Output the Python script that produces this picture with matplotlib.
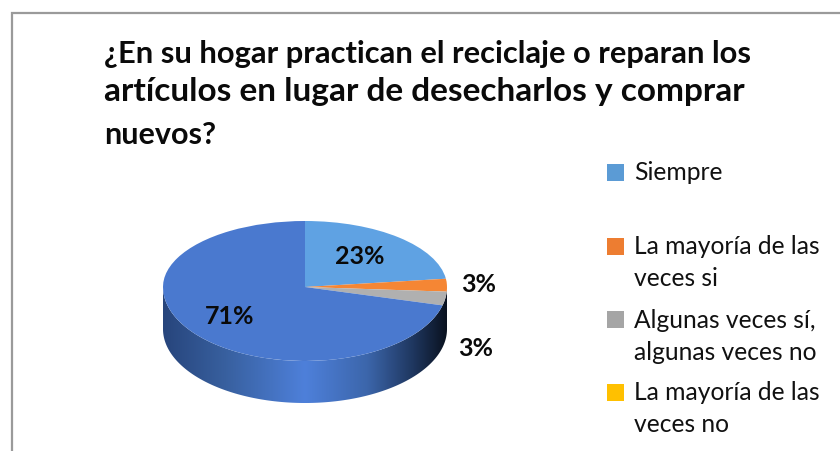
import numpy as np
import matplotlib
matplotlib.use("Agg")
import matplotlib.pyplot as plt
from matplotlib.patches import Rectangle, PathPatch
from matplotlib.path import Path
from matplotlib.colors import LinearSegmentedColormap

categories = ["Siempre", "La mayoría de las\nveces si", "Algunas veces sí,\nalgunas veces no",
              "La mayoría de las\nveces no", "Nunca"]
values = [23, 3, 3, 0, 71]
labels = ["23%", "3%", "3%", "", "71%"]
colors = ["#5fa2e3", "#f58634", "#b0b0b0", "#ffc000", "#4a79cf"]
legend_colors = ["#5b9bd5", "#ed7d31", "#a5a5a5", "#ffc000"]
title_lines = ["¿En su hogar practican el reciclaje o reparan los",
               "artículos en lugar de desecharlos y comprar",
               "nuevos?"]

W, H = 840, 451
FONT = "Lato"
fig = plt.figure(figsize=(W / 100, H / 100), dpi=100, facecolor="white")
bg = fig.add_axes([0, 0, 1, 1])
bg.set_xlim(0, W); bg.set_ylim(H, 0); bg.axis("off")

# frame (top and left only reach the picture)
bg.plot([11.5, 11.5, W], [H, 13, 13], color="#9a9a9a", lw=1.6, solid_joinstyle="miter")

# title
for line, y, size in zip(title_lines, [54, 91, 135], [22.2, 24.0, 22.0]):
    bg.text(104, y, line, fontsize=size, fontweight="bold", family=FONT, color="#0a0a0a",
            ha="left", va="center")

# pie geometry: perspective makes the near half of the top ellipse taller than the far half
cx, cy, rx, ry_far, ry_near, depth = 305, 287, 142, 66, 74, 42

# side wall
t = np.linspace(0, np.pi, 200)
xs = cx + rx * np.cos(t)
yb = cy + ry_near * np.sin(t)
verts = list(zip(xs, yb + depth)) + list(zip(xs[::-1], yb[::-1]))
verts.append(verts[0])
codes = [Path.MOVETO] + [Path.LINETO] * (len(verts) - 2) + [Path.CLOSEPOLY]
clip = PathPatch(Path(verts, codes), fc="none", ec="none")
bg.add_patch(clip)
cmap = LinearSegmentedColormap.from_list("side", [(0, "#27457c"), (0.22, "#38609f"), (0.5, "#4e80da"),
                                                   (0.72, "#3c66ab"), (0.88, "#1f3760"), (1, "#0a1220")])
img = bg.imshow(np.linspace(0, 1, 256)[None, :], cmap=cmap, aspect="auto",
                extent=[cx - rx, cx + rx, cy + ry_near + depth, cy], zorder=1)
img.set_clip_path(clip)
bg.set_xlim(0, W); bg.set_ylim(H, 0)

# pie top: far half and near half, each clipped by its own axes
for top, bottom, ylim in [(cy - ry_far, cy, (0, 1)), (cy, cy + ry_near, (-1, 0))]:
    pax = fig.add_axes([(cx - rx) / W, 1 - bottom / H, 2 * rx / W, (bottom - top) / H])
    wedges, _ = pax.pie(values, colors=colors, startangle=90, counterclock=False, radius=1)
    pax.set_aspect("auto")
    pax.set_xlim(-1, 1); pax.set_ylim(*ylim)
    pax.patch.set_alpha(0)
    for w in wedges:
        w.set_clip_on(True)
        w.set_clip_box(pax.bbox)

# overlay for the data labels
over = fig.add_axes([0, 0, 1, 1])
over.set_xlim(0, W); over.set_ylim(H, 0); over.axis("off"); over.patch.set_alpha(0)
for lab, (x, y) in zip(labels, [(360, 257), (479, 285), (476, 349), (0, 0), (230, 317)]):
    if lab:
        over.text(x, y, lab, fontsize=18, fontweight="bold", family=FONT, color="#0a0a0a",
                  ha="center", va="center")

# legend
for name, col, y in zip(categories[:4], legend_colors, [172, 246, 319, 392]):
    bg.add_patch(Rectangle((607, y - 8), 17, 17, fc=col, ec="none"))
    for i, part in enumerate(name.split("\n")):
        bg.text(634, y + 1 + i * 32, part, fontsize=17.7, family=FONT, color="#111111",
                ha="left", va="center")

fig.savefig("out.png", dpi=100)
